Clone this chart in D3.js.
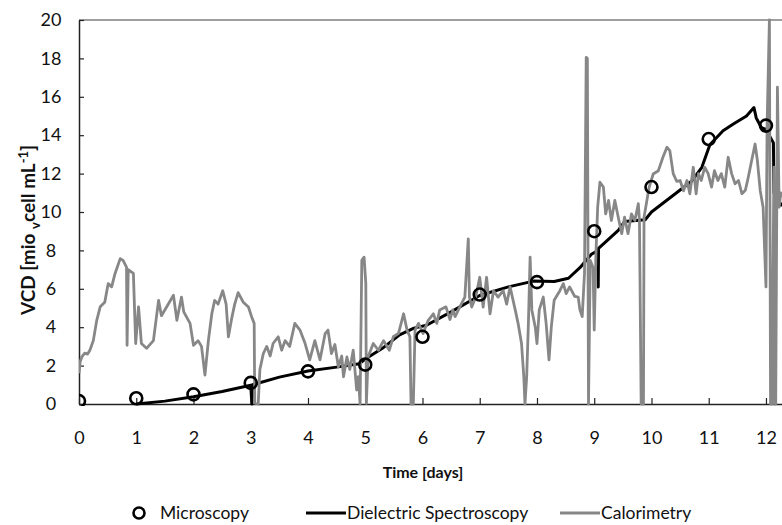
<!DOCTYPE html>
<html>
<head>
<meta charset="utf-8">
<script src="https://cdn.jsdelivr.net/npm/d3@7"></script>
<style>
  html, body { margin: 0; padding: 0; background: #fff; }
  svg { display: block; font-family: Lato, "Open Sans", sans-serif; }
</style>
</head>
<body>
<svg id="chart" width="782" height="525"></svg>
<script>
// ---- data ----
const xTicks = [0,1,2,3,4,5,6,7,8,9,10,11,12];
const yTicks = [0,2,4,6,8,10,12,14,16,18,20];

const microDays = [0,1,2,3,4,5,6,7,8,9,10,11,12];
const microVCD  = [0.15,0.3,0.5,1.1,1.7,2.05,3.5,5.7,6.35,9.0,11.3,13.8,14.5];

const dielDays = [1.0,1.5,2.0,2.5,3.0,3.02,3.03,3.5,4.0,4.5,4.9,5.03,5.3,5.6,5.85,6.07,6.5,7.0,7.5,7.94,8.3,8.55,8.75,8.95,9.04,9.07,9.07,9.075,9.42,9.53,9.89,10.0,10.41,10.7,10.88,11.02,11.25,11.43,11.66,11.79,11.83,11.92,12.0,12.13,12.14,12.2,12.28];
const dielVCD  = [0.0,0.15,0.38,0.65,0.98,0.0,1.0,1.4,1.72,1.92,2.1,2.4,2.9,3.6,3.95,4.1,4.8,5.65,6.1,6.4,6.38,6.55,7.1,7.8,7.95,8.05,6.1,8.1,9.04,9.5,9.6,10.0,10.94,11.6,12.33,13.5,14.23,14.58,15.0,15.44,14.9,14.4,14.3,13.6,11.0,10.7,10.3];

const calDays = [0.00,0.02,0.05,0.10,0.15,0.19,0.25,0.31,0.37,0.45,0.51,0.57,0.63,0.72,0.77,0.83,0.84,0.86,0.95,0.99,1.04,1.09,1.18,1.30,1.39,1.44,1.53,1.65,1.71,1.79,1.83,1.94,2.00,2.08,2.14,2.20,2.26,2.32,2.37,2.43,2.51,2.57,2.61,2.67,2.72,2.78,2.87,2.96,3.02,3.06,3.07,3.13,3.16,3.22,3.28,3.34,3.39,3.48,3.54,3.60,3.68,3.77,3.86,3.95,4.03,4.12,4.21,4.30,4.35,4.41,4.47,4.53,4.59,4.62,4.68,4.73,4.79,4.85,4.88,4.91,4.94,4.98,5.01,5.02,5.05,5.14,5.23,5.32,5.42,5.49,5.58,5.67,5.73,5.78,5.80,5.84,5.87,5.93,6.01,6.10,6.19,6.25,6.30,6.41,6.48,6.53,6.57,6.65,6.74,6.80,6.82,6.86,6.93,7.00,7.06,7.12,7.18,7.24,7.32,7.41,7.47,7.53,7.62,7.67,7.73,7.77,7.79,7.82,7.85,7.88,7.91,7.97,8.00,8.04,8.11,8.16,8.21,8.25,8.30,8.40,8.46,8.51,8.57,8.66,8.72,8.75,8.79,8.83,8.86,8.88,8.90,8.93,8.98,9.00,9.03,9.06,9.10,9.16,9.20,9.25,9.30,9.36,9.42,9.48,9.53,9.59,9.65,9.71,9.77,9.79,9.82,9.86,9.87,9.92,9.96,10.03,10.12,10.20,10.27,10.32,10.38,10.44,10.50,10.56,10.62,10.67,10.73,10.78,10.82,10.87,10.93,10.99,11.05,11.10,11.16,11.22,11.28,11.34,11.40,11.46,11.52,11.58,11.64,11.69,11.75,11.81,11.85,11.90,11.95,12.00,12.02,12.06,12.08,12.10,12.14,12.15,12.17,12.20,12.23,12.26,12.30];
const calVCD  = [1.6,2.2,2.46,2.65,2.6,2.8,3.3,4.36,5.06,5.3,6.27,6.1,6.8,7.57,7.48,7.13,3.06,7.0,6.8,3.15,5.06,3.15,2.9,3.3,5.4,4.6,5.05,5.66,4.36,5.57,4.8,4.2,3.06,3.3,3.0,1.5,3.3,4.7,5.4,5.2,5.9,5.2,3.5,4.5,5.2,5.8,5.3,5.05,4.5,4.2,0.05,0,1.8,2.63,3.0,2.5,3.15,3.5,2.8,3.3,3.0,4.2,3.85,3.15,2.3,3.3,2.3,3.67,3.85,2.63,3.1,1.94,2.5,1.42,2.45,1.8,2.8,0.73,1.42,0,7.48,7.65,6.27,0.03,2.46,3.15,2.8,3.3,2.8,3.5,3.67,4.7,3.85,3.5,0,0,3.85,4.2,3.67,4.36,4.7,4.2,4.9,5.06,4.4,4.9,4.55,5.05,5.57,8.6,5.57,5.05,5.57,6.6,5.05,6.6,4.7,5.9,5.57,5.9,5.2,6.1,4.9,4.2,3.15,1.42,0,1.42,4.2,7.65,4.9,4.0,3.15,4.9,5.57,4.2,2.3,4.0,5.4,5.9,6.27,5.75,6.1,5.6,5.57,4.9,4.55,6.8,18.05,18.0,0,7.48,7.1,3.85,7.83,10.25,11.55,11.3,9.9,10.6,9.56,10.6,9.73,8.87,9.73,8.87,9.9,9.56,10.43,9.56,0,0,9.73,10.6,11.3,11.98,12.15,12.85,13.37,13.2,12.0,11.6,11.64,11.1,11.64,10.95,12.33,10.95,12.0,11.64,12.33,12.0,11.3,12.15,11.64,12.0,11.3,12.85,12.0,11.47,11.64,10.95,11.13,11.8,12.68,13.54,12.68,11.1,10.25,6.1,14.58,20,0,0,12.33,0,0,16.5,10.25,11.0,10.8];

const legendLabels = ["Microscopy","Dielectric Spectroscopy","Calorimetry"];

// ---- chart ----
const svg = d3.select("#chart");
const x = d3.scaleLinear().domain([0, 12.28]).range([79, 782]);
const y = d3.scaleLinear().domain([0, 20]).range([404, 20]);

svg.append("defs").append("clipPath").attr("id","clip")
  .append("rect").attr("x",79).attr("y",18).attr("width",703).attr("height",388);

// top border
svg.append("line").attr("x1",79).attr("x2",782).attr("y1",y(20)).attr("y2",y(20))
  .attr("stroke","#7f7f7f").attr("stroke-width",1.5);

// x axis
const xAxis = svg.append("g").attr("transform",`translate(0,${y(0)})`)
  .call(d3.axisBottom(x).tickValues(xTicks).tickSizeInner(-6).tickSizeOuter(0).tickPadding(27).tickFormat(d3.format("d")));
xAxis.select(".domain").attr("stroke","#222").attr("stroke-width",1.5);
xAxis.selectAll(".tick line").attr("stroke","#222").attr("stroke-width",1.2);
xAxis.selectAll(".tick text").attr("font-size",18).attr("fill","#111").attr("font-family","Lato, sans-serif");

// y axis
const yAxis = svg.append("g").attr("transform",`translate(79,0)`)
  .call(d3.axisLeft(y).tickValues(yTicks).tickSizeInner(-5).tickSizeOuter(0).tickPadding(0).tickFormat(d3.format("d")));
yAxis.select(".domain").attr("stroke","#222").attr("stroke-width",1.5);
yAxis.selectAll(".tick line").attr("stroke","#222").attr("stroke-width",1.2);
yAxis.selectAll(".tick text").attr("font-size",18).attr("fill","#111")
  .attr("font-family","Lato, sans-serif").attr("text-anchor","middle").attr("x",-28);

const plot = svg.append("g").attr("clip-path","url(#clip)");

const line = d3.line().x(d => x(d[0])).y(d => y(d[1]));

const dielData = dielDays.map((d,i) => [d, dielVCD[i]]);
const calData = calDays.map((d,i) => [d, calVCD[i]]);

plot.append("path").datum(dielData).attr("d", line)
  .attr("fill","none").attr("stroke","#000").attr("stroke-width",3).attr("stroke-linejoin","round");

plot.append("path").datum(calData).attr("d", line)
  .attr("fill","none").attr("stroke","#878787").attr("stroke-width",2.8).attr("stroke-linejoin","round");

plot.selectAll("circle.micro").data(microDays.map((d,i)=>[d, microVCD[i]]))
  .join("circle").attr("class","micro")
  .attr("cx", d => x(d[0])).attr("cy", d => y(d[1])).attr("r",6)
  .attr("fill","none").attr("stroke","#000").attr("stroke-width",2.6);

// axis titles
svg.append("text").attr("x",423).attr("y",478).attr("text-anchor","middle")
  .attr("font-size",16).attr("font-weight","bold").attr("fill","#111").text("Time [days]");

const yt = svg.append("text").attr("transform","translate(35,230) rotate(-90)")
  .attr("text-anchor","middle").attr("font-size",19).attr("font-weight","bold").attr("fill","#111");
yt.append("tspan").text("VCD [mio ");
yt.append("tspan").attr("font-size",13).attr("dy",5).text("v");
yt.append("tspan").attr("dy",-5).text("cell mL");
yt.append("tspan").attr("font-size",13).attr("dy",-7).text("-1");
yt.append("tspan").attr("dy",7).text("]");

// legend
const ly = 513;
svg.append("circle").attr("cx",139).attr("cy",ly).attr("r",5.5)
  .attr("fill","none").attr("stroke","#000").attr("stroke-width",2.6);
svg.append("text").attr("x",160).attr("y",ly+6).attr("font-size",17.5).attr("fill","#111").text(legendLabels[0]);
svg.append("line").attr("x1",306).attr("x2",346).attr("y1",ly).attr("y2",ly).attr("stroke","#000").attr("stroke-width",3);
svg.append("text").attr("x",347).attr("y",ly+6).attr("font-size",17.5).attr("fill","#111").text(legendLabels[1]);
svg.append("line").attr("x1",560).attr("x2",600).attr("y1",ly).attr("y2",ly).attr("stroke","#878787").attr("stroke-width",3);
svg.append("text").attr("x",601).attr("y",ly+6).attr("font-size",17.5).attr("fill","#111").text(legendLabels[2]);
</script>
</body>
</html>
